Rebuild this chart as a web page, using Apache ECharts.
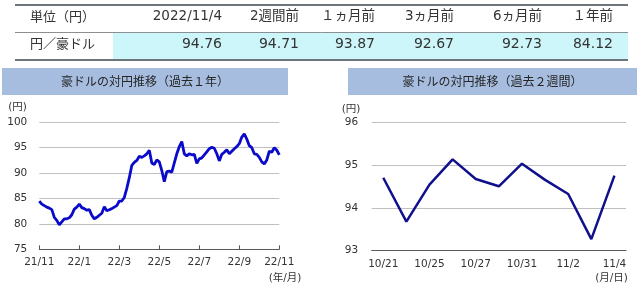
<!DOCTYPE html>
<html><head><meta charset="utf-8">
<script src="https://cdn.jsdelivr.net/npm/echarts@6/dist/echarts.min.js"></script>
<style>html,body{margin:0;padding:0;background:#fff}#c{width:640px;height:289px}</style>
</head><body><div id="c"></div>
<script>
const headerLabels = ['単位（円）', '2022/11/4', '2週間前', '１ヵ月前', '3ヵ月前', '6ヵ月前', '１年前'];
const rowLabel = '円／豪ドル';
const rowValues = ['94.76', '94.71', '93.87', '92.67', '92.73', '84.12'];

const titleYear = '豪ドルの対円推移（過去１年）';
const titleWeek = '豪ドルの対円推移（過去２週間）';

const yearTicks = ['21/11', '22/1', '22/3', '22/5', '22/7', '22/9', '22/11'];
const yearValues = [
  84.5, 83.9, 83.6, 83.3, 83.1, 82.8, 81.3, 80.7, 79.8, 80.4,
  81.0, 81.0, 81.2, 81.8, 82.9, 83.3, 83.9, 83.2, 83.0, 82.7,
  82.8, 81.7, 81.0, 81.3, 81.7, 82.1, 83.4, 82.6, 82.8, 83.0,
  83.3, 83.6, 84.5, 84.5, 85.2, 87.0, 89.1, 91.5, 92.1, 92.5,
  93.3, 93.1, 93.4, 93.8, 94.5, 92.0, 91.7, 92.6, 92.2, 90.5,
  88.3, 90.3, 90.4, 90.2, 92.0, 93.8, 95.2, 96.2, 93.8, 93.4,
  93.8, 93.6, 93.7, 91.9, 92.8, 93.0, 93.6, 94.2, 94.8, 95.1,
  94.9, 93.8, 92.4, 93.7, 94.1, 94.6, 93.8, 94.3, 94.8, 95.2,
  95.8, 97.1, 97.7, 96.7, 95.4, 95.0, 93.8, 93.7, 93.1, 92.2,
  91.8, 92.6, 94.3, 94.1, 95.0, 94.5, 93.6
];

const weekDates = ['10/21', '10/24', '10/25', '10/26', '10/27', '10/28', '10/31', '11/1', '11/2', '11/3', '11/4'];
const weekValues = [94.71, 93.68, 94.55, 95.14, 94.68, 94.51, 95.04, 94.66, 94.33, 93.27, 94.76];

const FF = '"DejaVu Sans", "Noto Sans CJK JP", sans-serif';
const FJ = '"Noto Sans CJK JP", sans-serif';
const txt = '#333333';
const axisCol = '#595959';
const gridCol = '#c0c0c0';

function text(t, x, y, align, font, color) {
  return { type: 'text', silent: true, style: { text: t, x: x, y: y, textAlign: align, align: align,
    textVerticalAlign: 'middle', verticalAlign: 'middle', font: font, fill: color || txt } };
}

const colRight = [222, 299, 375, 454, 542, 613];
const graphics = [
  { type: 'rect', silent: true, shape: { x: 113, y: 33, width: 515, height: 26 }, style: { fill: '#ccf6fa' } },
  { type: 'line', silent: true, shape: { x1: 15, y1: 5, x2: 628, y2: 5 }, style: { stroke: '#3b4650', lineWidth: 1.5 } },
  { type: 'line', silent: true, shape: { x1: 15, y1: 32.5, x2: 628, y2: 32.5 }, style: { stroke: '#8a8f94', lineWidth: 1 } },
  { type: 'line', silent: true, shape: { x1: 15, y1: 60, x2: 628, y2: 60 }, style: { stroke: '#3b4650', lineWidth: 1.5 } },
  text(headerLabels[0], 30, 16, 'left', '13px ' + FJ),
  text(rowLabel, 30, 43.5, 'left', '13px ' + FJ),
  { type: 'rect', silent: true, shape: { x: 2, y: 68, width: 286, height: 27 }, style: { fill: '#a6bddf' } },
  { type: 'rect', silent: true, shape: { x: 348, y: 68, width: 289, height: 27 }, style: { fill: '#a6bddf' } },
  text(titleYear, 145, 81.5, 'center', '12px ' + FJ, '#262626'),
  text(titleWeek, 492.5, 81.5, 'center', '12px ' + FJ, '#262626'),
  text('(円)', 17.5, 107, 'center', '10.5px ' + FF),
  text('(円)', 351, 109, 'center', '10.5px ' + FF),
  text('(年/月)', 285, 278, 'center', '10.5px ' + FF),
  text('(月/日)', 611.5, 278, 'center', '10.5px ' + FF)
];
for (let i = 0; i < 6; i++) {
  graphics.push(text(headerLabels[i + 1], colRight[i], 16, 'right', '13.5px ' + FF));
  graphics.push(text(rowValues[i], colRight[i], 44, 'right', '14px ' + FF));
}

const lbl = { fontSize: 10.5, color: txt, fontFamily: FF };
const option = {
  animation: false,
  graphic: graphics,
  grid: [
    { left: 39.3, top: 122.3, width: 240, height: 127 },
    { left: 371.7, top: 122.7, width: 254.3, height: 128 }
  ],
  xAxis: [
    { type: 'value', gridIndex: 0, min: 0, max: 12, interval: 2,
      axisLine: { onZero: false, lineStyle: { color: axisCol } },
      axisTick: { inside: true, length: 4, lineStyle: { color: axisCol } },
      axisLabel: Object.assign({ margin: 8, formatter: v => yearTicks[v / 2] }, lbl),
      splitLine: { show: false } },
    { type: 'category', gridIndex: 0, data: yearValues.map((_, i) => i), boundaryGap: false, show: false },
    { type: 'category', gridIndex: 1, data: weekDates, boundaryGap: true,
      axisLine: { onZero: false, lineStyle: { color: axisCol } },
      axisTick: { inside: true, length: 4, interval: 1, lineStyle: { color: axisCol } },
      axisLabel: Object.assign({ margin: 8, interval: 1 }, lbl) }
  ],
  yAxis: [
    { type: 'value', gridIndex: 0, min: 75, max: 100, interval: 5,
      axisLine: { show: false }, axisTick: { show: false },
      axisLabel: Object.assign({ margin: 12 }, lbl),
      splitLine: { lineStyle: { color: gridCol } } },
    { type: 'value', gridIndex: 1, min: 93, max: 96, interval: 1,
      axisLine: { show: false }, axisTick: { show: false },
      axisLabel: Object.assign({ margin: 13.5 }, lbl),
      splitLine: { lineStyle: { color: gridCol } } }
  ],
  series: [
    { type: 'line', xAxisIndex: 1, yAxisIndex: 0, data: yearValues, symbol: 'none',
      lineStyle: { width: 2.8, color: '#0a0acb' } },
    { type: 'line', xAxisIndex: 2, yAxisIndex: 1, data: weekValues, symbol: 'none',
      lineStyle: { width: 2.5, color: '#10108c' } }
  ]
};
const chart = echarts.init(document.getElementById('c'), null, { renderer: 'canvas' });
chart.setOption(option);
</script></body></html>
